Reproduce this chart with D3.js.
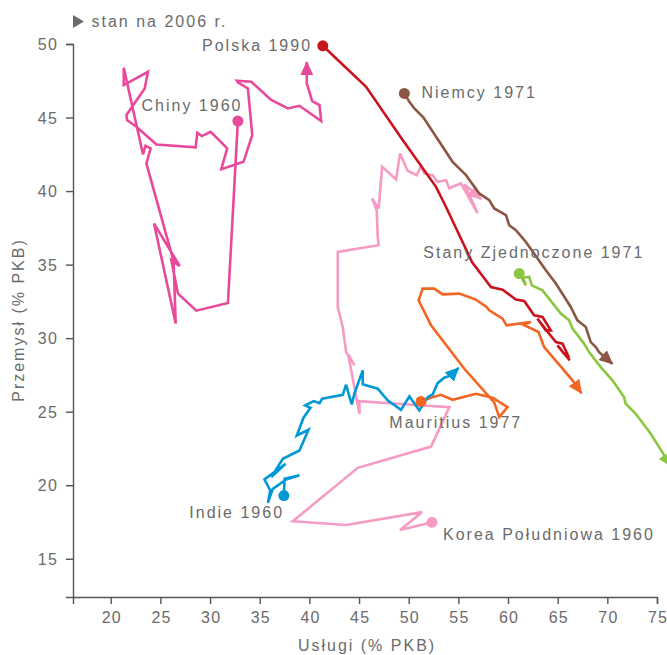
<!DOCTYPE html>
<html><head><meta charset="utf-8">
<script src="https://cdn.jsdelivr.net/npm/d3@7"></script>
<style>
body{margin:0;background:#fff}
svg text{font-family:"Liberation Sans",Arial,sans-serif;fill:#6b6b6b;font-size:16px;letter-spacing:2px}
</style>
</head><body>
<svg id="chart" width="667" height="655"></svg>
<script>
// ---- data (services % GDP, industry % GDP) ----
const xTicks = [20,25,30,35,40,45,50,55,60,65,70,75];
const yTicks = [15,20,25,30,35,40,45,50];

const koreaServices = [52.34,49.13,51.34,43.70,38.33,44.87,52.25,54.09,45.04,45.04,43.90,44.55,43.70,43.36,42.86,42.86,46.98,46.88,46.78,46.31,46.98,47.32,48.73,49.13,49.89,50.80,51.24,51.57,52.41,52.91,53.76,54.09,54.42,55.26,56.93,55.60,57.30];
const koreaIndustry = [17.48,16.96,18.17,17.30,17.55,21.18,22.63,25.31,25.72,24.86,28.90,28.15,29.05,30.76,32.12,35.86,36.32,36.88,38.70,39.50,38.82,41.65,40.79,42.56,41.38,41.08,41.70,41.20,41.08,40.63,40.74,40.18,40.29,40.52,38.50,40.47,39.45];

const chinaServices = [32.80,31.80,28.62,26.77,26.10,26.94,24.36,26.54,26.33,23.59,24.02,23.49,23.25,21.31,21.31,23.75,23.42,21.58,21.64,22.58,24.60,28.55,28.72,29.18,30.06,31.73,31.13,33.37,34.25,33.81,32.80,32.70,34.15,36.16,37.83,39.00,41.19,41.02,40.28,39.74,39.74];
const chinaIndustry = [44.76,32.39,31.87,33.03,35.30,34.91,37.79,30.99,35.23,41.88,42.90,43.08,42.49,48.39,47.21,48.11,46.98,45.17,44.83,44.37,43.17,42.97,43.96,43.74,44.03,42.90,41.49,41.99,43.81,46.98,47.39,47.50,47.43,46.19,45.62,45.80,44.76,45.85,46.12,47.32,48.77];

const polandServices = [41.35,45.71,49.39,52.75,53.76,56.37,58.28,59.45,60.79,61.63,62.63,63.47,64.31,63.81,62.96,64.14,64.82,65.49,66.15,65.65,64.98,66.22];
const polandIndustry = [49.88,47.09,43.47,40.29,38.92,35.18,33.48,33.30,32.62,32.53,31.55,31.44,30.53,30.53,31.33,30.30,29.73,29.62,28.67,28.94,29.51,28.49];

const germanyServices = [49.56,50.07,50.57,51.47,54.42,55.77,57.10,58.11,58.61,59.79,60.12,60.79,61.80,63.81,64.82,66.32,66.99,67.83,68.33,68.84,69.17,70.51];
const germanyIndustry = [46.64,46.07,45.62,45.01,41.99,41.08,39.84,39.38,38.82,38.36,37.68,37.34,36.54,34.62,33.71,32.12,31.21,30.76,29.73,29.39,29.05,28.26];

const usaServices = [61.13,61.80,61.53,62.13,62.40,63.47,65.32,66.15,66.49,67.66,68.16,69.34,70.51,71.68,71.85,72.86,74.37,75.53,76.41];
const usaIndustry = [34.39,33.59,34.12,34.16,33.59,33.25,31.67,31.21,30.65,29.63,29.05,28.03,27.13,25.99,25.54,24.86,23.50,22.25,21.27];

const mauritiusServices = [51.24,52.41,53.25,54.42,56.77,58.44,59.95,59.12,58.61,55.60,52.25,51.00,51.40,52.58,53.41,55.09,56.77,57.84,58.11,59.45,59.85,62.30,61.53,63.07,63.64,66.49,67.39];
const mauritiusIndustry = [25.70,25.99,26.15,25.81,26.22,25.95,25.31,24.63,25.63,27.92,30.87,32.57,33.37,33.37,32.98,33.03,32.62,32.12,31.89,31.33,30.87,31.10,30.92,30.42,29.39,27.13,26.26];

const indiaServices = [37.43,37.50,39.00,37.67,36.32,35.82,36.06,35.48,37.60,36.16,37.33,39.00,39.91,38.73,39.41,40.11,39.58,40.44,41.02,41.29,43.36,43.70,44.26,44.53,45.37,45.37,46.88,47.88,49.23,50.07,51.07,51.91,52.41,52.91,53.58,54.26,55.02];
const indiaIndustry = [19.30,20.44,20.68,20.39,19.75,18.80,19.64,20.39,21.46,20.55,21.80,22.36,23.77,23.38,24.59,25.27,25.43,25.72,25.58,25.88,26.15,26.83,25.49,26.22,27.81,26.86,26.56,25.77,25.13,26.04,25.08,25.99,26.17,26.94,27.31,27.47,27.97];

const seriesNames = ["Korea Południowa 1960","Chiny 1960","Polska 1990","Niemcy 1971","Stany Zjednoczone 1971","Mauritius 1977","Indie 1960"];

// ---- build ----
const zip = (a,b) => a.map((v,i)=>[v,b[i]]);
const series = [
  {name:seriesNames[0], pts:zip(koreaServices,koreaIndustry), color:"#f59bc4", lx:443, ly:540, arrow:true},
  {name:seriesNames[1], pts:zip(chinaServices,chinaIndustry), color:"#e8499a", lx:141.5, ly:111, arrow:true},
  {name:seriesNames[2], pts:zip(polandServices,polandIndustry), color:"#c9141e", lx:202, ly:50.5, arrow:false},
  {name:seriesNames[3], pts:zip(germanyServices,germanyIndustry), color:"#8b5744", lx:421.5, ly:98.3, arrow:true},
  {name:seriesNames[4], pts:zip(usaServices,usaIndustry), color:"#8cc63f", lx:423.3, ly:258.3, arrow:true},
  {name:seriesNames[5], pts:zip(mauritiusServices,mauritiusIndustry), color:"#f26522", lx:389.3, ly:428.3, arrow:true},
  {name:seriesNames[6], pts:zip(indiaServices,indiaIndustry), color:"#0098d6", lx:189.3, ly:518.3, arrow:true}
];

const svg = d3.select("#chart");
const x = d3.scaleLinear().domain([16.2,75]).range([73,657]);
const y = d3.scaleLinear().domain([12.4,50]).range([597,44]);

const defs = svg.append("defs");
series.forEach((s,i)=>{
  defs.append("marker").attr("id","arr"+i)
    .attr("viewBox","0 -7 14 14").attr("refX",13).attr("refY",0)
    .attr("markerWidth",14).attr("markerHeight",14)
    .attr("markerUnits","userSpaceOnUse").attr("orient","auto")
    .append("path").attr("d","M0,-6.5L14,0L0,6.5Z").attr("fill",s.color);
});

// axes
const axisColor = "#555";
const gx = svg.append("g").attr("transform","translate(0,597)")
  .call(d3.axisBottom(x).tickValues(xTicks).tickSize(7).tickSizeOuter(7).tickPadding(8));
const gy = svg.append("g").attr("transform","translate(73,0)")
  .call(d3.axisLeft(y).tickValues(yTicks).tickSize(7).tickSizeOuter(7).tickPadding(8));
[gx,gy].forEach(g=>{
  g.selectAll("path,line").attr("stroke",axisColor).attr("stroke-width",1.4);
  g.selectAll("text").attr("fill","#6b6b6b").style("font-size","16px")
   .style("letter-spacing","1.2px")
   .style("font-family",'"Liberation Sans",Arial,sans-serif');
});
gx.selectAll("text").attr("dx","0.6");
gy.selectAll("text").attr("dy","0.36em");

svg.append("text").attr("x",367).attr("y",651).attr("text-anchor","middle").text("Usługi (% PKB)");
svg.append("text").attr("transform","translate(24,320) rotate(-90)").attr("text-anchor","middle").text("Przemysł (% PKB)");

// legend note
svg.append("path").attr("d","M73,15L84,21.5L73,28Z").attr("fill","#6b6b6b");
svg.append("text").attr("x",91.5).attr("y",26.7).text("stan na 2006 r.");

// lines
const line = d3.line().x(d=>x(d[0])).y(d=>y(d[1]));
series.forEach((s,i)=>{
  svg.append("path").datum(s.pts).attr("d",line)
    .attr("fill","none").attr("stroke",s.color).attr("stroke-width",2.6)
    .attr("stroke-linejoin","miter").attr("stroke-miterlimit",3)
    .attr("marker-end", s.arrow ? `url(#arr${i})` : null);
});
series.forEach(s=>{
  svg.append("circle").attr("cx",x(s.pts[0][0])).attr("cy",y(s.pts[0][1])).attr("r",5.5).attr("fill",s.color);
  svg.append("text").attr("x",s.lx).attr("y",s.ly).text(s.name);
});
</script>
</body></html>
